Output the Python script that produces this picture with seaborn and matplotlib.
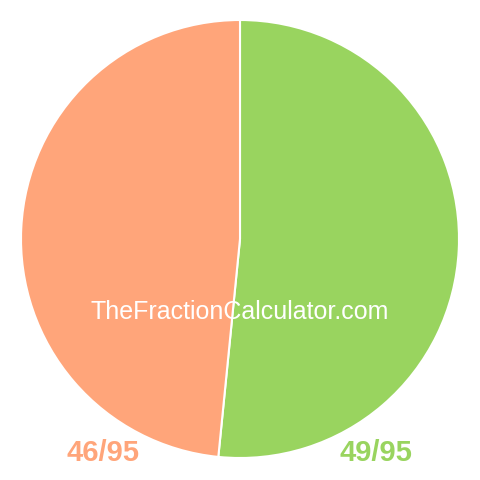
import matplotlib
matplotlib.use("Agg")
import matplotlib.pyplot as plt
import seaborn as sns

# slice data
labels = ["49/95", "46/95"]
values = [49, 46]
colors = ["#99d45f", "#ffa57a"]

sns.set_theme(style="white")
plt.rcParams['font.family'] = ['Liberation Sans', 'DejaVu Sans']

fig = plt.figure(figsize=(4.8, 4.8), dpi=100)
ax = fig.add_axes([0, 0, 1, 1])
ax.pie(values, colors=colors, startangle=90, counterclock=False,
       center=(240, 241), radius=219,
       wedgeprops=dict(edgecolor="white", linewidth=1.5))
ax.set_xlim(0, 480)
ax.set_ylim(0, 480)
ax.set_aspect("equal")
ax.axis("off")

# watermark
ax.text(240, 168, "TheFractionCalculator.com", color="white", fontsize=18,
        ha="center", va="center")

# fraction labels
ax.text(103, 27, labels[1], color=colors[1], fontsize=21, fontweight="bold",
        ha="center", va="center")
ax.text(376, 27, labels[0], color=colors[0], fontsize=21, fontweight="bold",
        ha="center", va="center")

fig.savefig("out.png", dpi=100)
